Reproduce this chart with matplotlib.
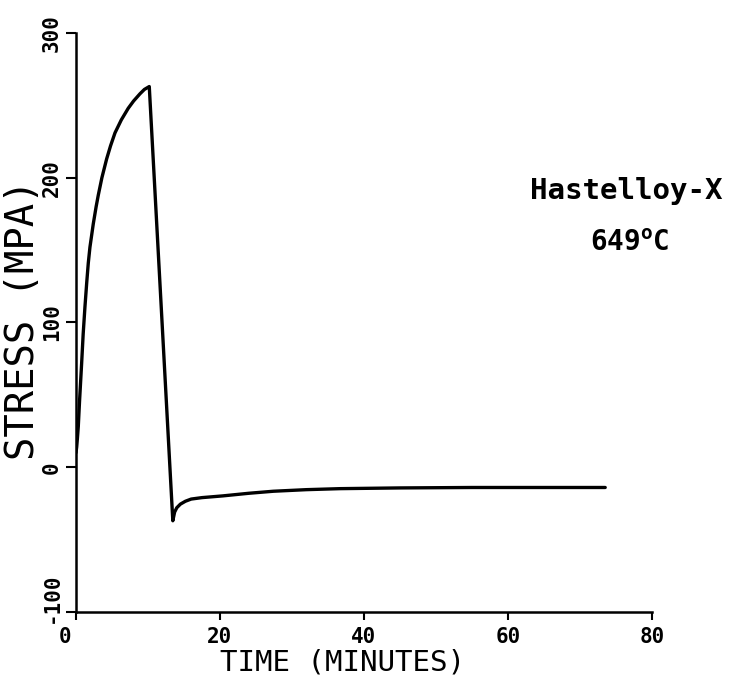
import matplotlib
matplotlib.use("Agg")
import matplotlib.pyplot as plt
import matplotlib.transforms as mtransforms

# Stress relaxation history, Hastelloy-X at 649 C
time_min = [0.0, 0.1, 0.2, 0.32, 0.5, 0.79, 1.0, 1.25, 1.5, 1.71, 1.94, 2.4,
            2.8, 3.1, 3.6, 4.26, 4.8, 5.42, 6.3, 7.26, 8.0, 8.89, 9.5, 10.18,
            13.45, 13.7, 14.0, 14.5, 15.2, 16.0, 17.5, 20.4, 24.0, 27.4, 32.0,
            36.7, 45.0, 55.0, 73.5]
stress_mpa = [10, 14, 20, 28, 46, 72, 92, 111, 128, 141, 152, 168,
              180, 188, 200, 213, 222, 231, 240, 248, 253, 258, 261, 263,
              -37, -31, -28, -25.5, -23.5, -22, -21, -19.8, -18, -16.6, -15.5,
              -14.8, -14.3, -14.0, -14.0]

x_ticks = [0, 20, 40, 60, 80]
x_tick_labels = ["0", "20", "40", "60", "80"]
y_ticks = [-100, 0, 100, 200, 300]
y_tick_labels = ["-100", "0", "100", "200", "300"]

FONT = "DejaVu Sans Mono"
plt.rcParams["font.family"] = FONT
plt.rcParams["font.weight"] = "bold"
plt.rcParams["mathtext.fontset"] = "custom"
plt.rcParams["mathtext.rm"] = "DejaVu Sans Mono:bold"
plt.rcParams["mathtext.it"] = "DejaVu Sans Mono:bold"

fig = plt.figure(figsize=(7.39, 6.83), dpi=100)
ax = fig.add_axes([0.1028, 0.1040, 0.7795, 0.8477])

ax.plot(time_min, stress_mpa, color="black", linewidth=2.4,
        solid_joinstyle="round", solid_capstyle="round")

ax.set_xlim(0, 80)
ax.set_ylim(-100, 300)
for side in ("top", "right"):
    ax.spines[side].set_visible(False)
for side in ("left", "bottom"):
    ax.spines[side].set_linewidth(1.8)

ax.set_xticks(x_ticks)
ax.set_xticklabels(x_tick_labels, fontsize=15, fontweight="bold")
ax.set_yticks(y_ticks)
ax.set_yticklabels(y_tick_labels, fontsize=15, fontweight="bold",
                   rotation=90, va="center")
ax.tick_params(axis="x", direction="out", length=6, width=1.5, pad=5)
ax.tick_params(axis="y", direction="out", length=7, width=1.5, pad=3)

# nudge the corner labels apart so they do not collide
x0_label = ax.xaxis.get_major_ticks()[0].label1
x0_label.set_transform(x0_label.get_transform() +
                       mtransforms.ScaledTranslation(-11 / 100, 0, fig.dpi_scale_trans))
ym_label = ax.yaxis.get_major_ticks()[0].label1
ym_label.set_transform(ym_label.get_transform() +
                       mtransforms.ScaledTranslation(0, 14 / 100, fig.dpi_scale_trans))

ax.set_xlabel("TIME (MINUTES)", fontsize=21, fontweight="normal", va="center")
ax.xaxis.set_label_coords(0.462, -0.088)
ax.set_ylabel("STRESS (MPA)", fontsize=28, fontweight="normal", va="center")
ax.yaxis.set_label_coords(-0.092, 0.504)

fig.text(0.848, 0.720, "Hastelloy-X", fontsize=21, fontweight="bold",
         ha="center", va="center")
fig.text(0.8525, 0.644, r"$\mathrm{649^{o}C}$", fontsize=20,
         ha="center", va="center")

fig.savefig("out.png", dpi=100, facecolor="white")
